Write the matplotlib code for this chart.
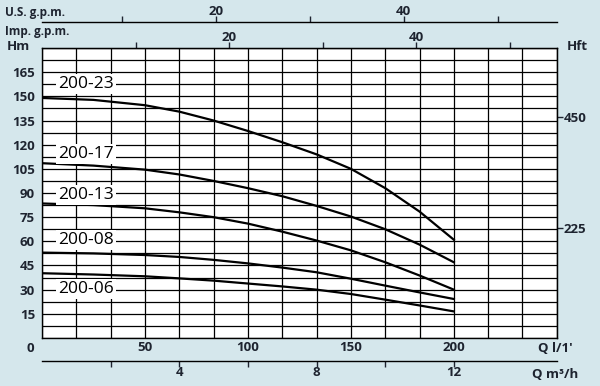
import numpy as np
import matplotlib
matplotlib.use('Agg')
import matplotlib.pyplot as plt

# pump curves, Q in l/min, H in m
q = [0, 25, 50, 66.7, 83.3, 100, 116.7, 133.3, 150, 166.7, 183.3, 200]
h_200_23 = [149, 147.8, 144.5, 140.5, 135, 128.5, 121.5, 114, 105, 93, 78.5, 61]
h_200_17 = [108.5, 107, 104.5, 101.5, 97.5, 93, 88, 82, 75.4, 67.5, 58, 47]
h_200_13 = [83.5, 82.5, 80.5, 78, 75, 71, 66, 60.5, 54.4, 47, 38.8, 30]
h_200_08 = [53, 52.5, 51.5, 50.3, 48.5, 46.3, 43.7, 40.8, 36.8, 32.5, 28.3, 24.2]
h_200_06 = [40.2, 39.4, 38.3, 37, 35.6, 33.8, 32, 30, 27.3, 23.8, 20.2, 16.5]
curves = [h_200_23, h_200_17, h_200_13, h_200_08, h_200_06]
names = ['200-23', '200-17', '200-13', '200-08', '200-06']
label_h = [157.5, 114, 89, 60.6, 30.6]

hm_ticks = [15, 30, 45, 60, 75, 90, 105, 120, 135, 150, 165]
q_ticks = [50, 100, 150, 200]
hft_ticks = [225, 450]
m3h_ticks = [2, 4, 6, 8, 10, 12]
m3h_labels = ['', '4', '', '8', '', '12']
gpm_ticks = [10, 20, 30, 40, 50]
gpm_labels = ['', '20', '', '40', '']

bg = '#d5e7ec'
txt = '#1e2430'
fs = 9.5
plt.rcParams['font.family'] = ['Open Sans', 'DejaVu Sans']

fig = plt.figure(figsize=(6, 3.86), dpi=100, facecolor=bg)
ax = fig.add_axes([0.07, 0.1244, 0.858, 0.7512])
ax.set_facecolor('white')
ax.set_xlim(0, 250)
ax.set_ylim(0, 180)

ax.set_xticks(q_ticks)
ax.set_xticks(np.arange(0, 250.1, 50 / 3), minor=True)
ax.set_yticks(hm_ticks)
ax.set_yticks(np.arange(0, 180.1, 7.5), minor=True)
ax.grid(True, which='both', color='black', linewidth=0.9)
ax.set_axisbelow(True)
ax.tick_params(which='both', length=0)
ax.tick_params(axis='x', pad=2)
ax.tick_params(axis='y', pad=5)
for lab in ax.get_xticklabels() + ax.get_yticklabels():
    lab.set_fontsize(fs)
    lab.set_fontweight('bold')
    lab.set_color(txt)
for s in ax.spines.values():
    s.set_color('black')
    s.set_linewidth(1)

for h, name, lh in zip(curves, names, label_h):
    ax.plot(q, h, color='black', linewidth=1.6, zorder=3)
    ax.text(7.8, lh, name, fontsize=12.5, color='black', va='center', ha='left',
            zorder=4, bbox=dict(facecolor='white', edgecolor='none', pad=1.5))

# right axis in feet
ft = 3.2808
right = ax.secondary_yaxis('right', functions=(lambda m: m * ft, lambda f: f / ft))
right.set_yticks(hft_ticks)
right.tick_params(length=4, width=1, pad=1, labelsize=fs, colors=txt)
for lab in right.get_yticklabels():
    lab.set_fontweight('bold')

# bottom axis in m3/h
bot = ax.secondary_xaxis(-0.079, functions=(lambda x: x * 0.06, lambda m: m / 0.06))
bot.set_xticks(m3h_ticks)
bot.set_xticklabels(m3h_labels)
bot.tick_params(length=4, width=1, pad=0, labelsize=fs, colors=txt)
bot.spines['bottom'].set_linewidth(1)
for lab in bot.get_xticklabels():
    lab.set_fontweight('bold')

# imperial gpm on top of the plot
imp = ax.secondary_xaxis('top', functions=(lambda x: x * 0.21997, lambda g: g / 0.21997))
imp.set_xticks(gpm_ticks)
imp.set_xticklabels(gpm_labels)
imp.tick_params(length=4, width=1, pad=-1, labelsize=fs, colors=txt)
for lab in imp.get_xticklabels():
    lab.set_fontweight('bold')

# U.S. gpm scale as drawn in the original
us_a, us_b = 4.562, -6.82
us = ax.secondary_xaxis(1.0897, functions=(lambda x: (x - us_b) / us_a, lambda g: g * us_a + us_b))
us.set_xticks(gpm_ticks)
us.set_xticklabels(gpm_labels)
us.tick_params(length=4, width=1, pad=-1, labelsize=fs, colors=txt)
us.spines['top'].set_linewidth(1)
for lab in us.get_xticklabels():
    lab.set_fontweight('bold')

kw = dict(fontsize=8.5, fontweight='bold', color=txt)
fig.text(0.008, 0.968, 'U.S. g.p.m.', va='center', ha='left', **kw)
fig.text(0.008, 0.918, 'Imp. g.p.m.', va='center', ha='left', **kw)
fig.text(0.012, 0.88, 'Hm', va='center', ha='left', fontsize=fs, fontweight='bold', color=txt)
fig.text(0.962, 0.88, 'Hft', va='center', ha='center', fontsize=fs, fontweight='bold', color=txt)
fig.text(0.05, 0.098, '0', va='center', ha='center', fontsize=fs, fontweight='bold', color=txt)
fig.text(0.925, 0.098, "Q l/1'", va='center', ha='center', fontsize=fs, fontweight='bold', color=txt)
fig.text(0.925, 0.03, 'Q m³/h', va='center', ha='center', fontsize=fs, fontweight='bold', color=txt)

fig.savefig('out.png', dpi=100, facecolor=bg)
